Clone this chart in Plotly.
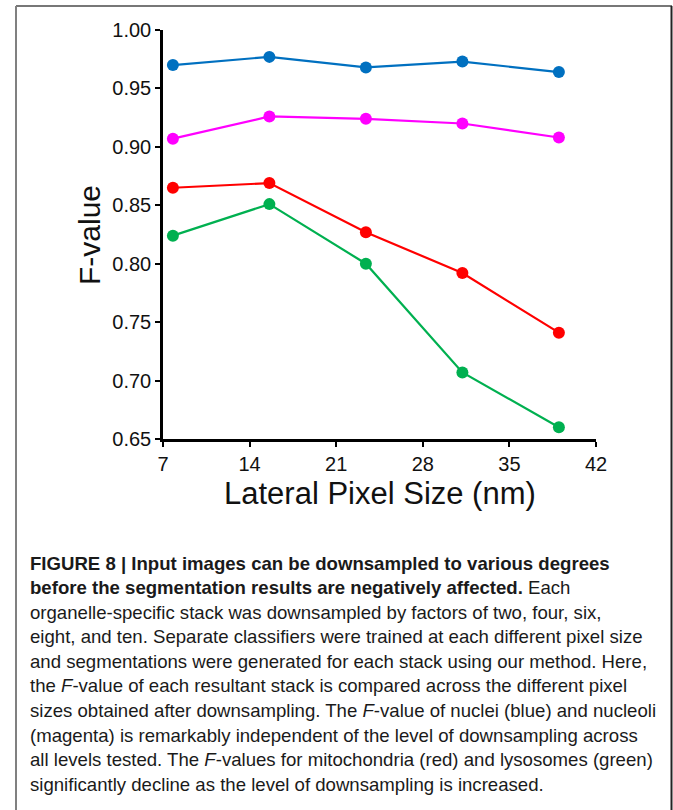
import plotly.graph_objects as go

pixel_size = [7.8, 15.6, 23.4, 31.2, 39.0]
nuclei = [0.970, 0.977, 0.968, 0.973, 0.964]
nucleoli = [0.907, 0.926, 0.924, 0.920, 0.908]
mitochondria = [0.865, 0.869, 0.827, 0.792, 0.741]
lysosomes = [0.824, 0.851, 0.800, 0.707, 0.660]

series = [
    ("Nuclei", nuclei, "#0070C0"),
    ("Nucleoli", nucleoli, "#FF00FF"),
    ("Mitochondria", mitochondria, "#FF0000"),
    ("Lysosomes", lysosomes, "#00B050"),
]

x_ticks = [7, 14, 21, 28, 35, 42]
y_ticks = [0.65, 0.70, 0.75, 0.80, 0.85, 0.90, 0.95, 1.00]

caption_lines = [
    "<b>FIGURE 8 | Input images can be downsampled to various degrees</b>",
    "<b>before the segmentation results are negatively affected.</b> Each",
    "organelle-specific stack was downsampled by factors of two, four, six,",
    "eight, and ten. Separate classifiers were trained at each different pixel size",
    "and segmentations were generated for each stack using our method. Here,",
    "the <i>F</i>-value of each resultant stack is compared across the different pixel",
    "sizes obtained after downsampling. The <i>F</i>-value of nuclei (blue) and nucleoli",
    "(magenta) is remarkably independent of the level of downsampling across",
    "all levels tested. The <i>F</i>-values for mitochondria (red) and lysosomes (green)",
    "significantly decline as the level of downsampling is increased.",
]

W, H = 673, 810
L, R, T, B = 163, 596, 30, 439
pw, ph = R - L, B - T

def px(xp):
    return (xp - L) / pw

def py(yp):
    return (B - yp) / ph

fig = go.Figure()
for name, vals, color in series:
    fig.add_trace(go.Scatter(
        x=pixel_size, y=vals, mode="lines+markers", name=name,
        line=dict(color=color, width=2.2),
        marker=dict(color=color, size=12),
        showlegend=False, cliponaxis=False,
    ))

axis_font = dict(family="Arial, Liberation Sans, sans-serif", size=20, color="#111")
fig.update_xaxes(
    range=[7, 42], tickvals=x_ticks, ticktext=[str(v) for v in x_ticks],
    showline=True, linecolor="black", linewidth=2.5, ticks="outside",
    ticklen=5, tickwidth=2, tickcolor="black", showgrid=False, zeroline=False,
    tickfont=axis_font,
)
fig.update_yaxes(
    range=[0.65, 1.00], tickvals=y_ticks, ticktext=[f"{v:.2f}" for v in y_ticks],
    showline=True, linecolor="black", linewidth=2.5, ticks="outside",
    ticklen=5, tickwidth=2, tickcolor="black", showgrid=False, zeroline=False,
    tickfont=axis_font,
)

annotations = [
    dict(text="Lateral Pixel Size (nm)", x=px(380), y=py(494), xref="paper", yref="paper",
         showarrow=False, xanchor="center", yanchor="middle",
         font=dict(family="Arial, Liberation Sans, sans-serif", size=31, color="#111")),
    dict(text="F-value", x=px(90), y=py(235), xref="paper", yref="paper", textangle=-90,
         showarrow=False, xanchor="center", yanchor="middle",
         font=dict(family="Arial, Liberation Sans, sans-serif", size=30, color="#111")),
]
cap_y0, cap_dy = 563, 24.6
for i, line in enumerate(caption_lines):
    annotations.append(dict(
        text=line, x=px(28), y=py(cap_y0 + i * cap_dy), xref="paper", yref="paper",
        showarrow=False, xanchor="left", yanchor="middle", align="left",
        font=dict(family="Arial, Liberation Sans, sans-serif", size=18.6, color="#1a1a1a"),
    ))

shapes = [
    dict(type="line", xref="paper", yref="paper", x0=px(16), x1=px(672), y0=py(6), y1=py(6),
         line=dict(color="#777777", width=2)),
    dict(type="line", xref="paper", yref="paper", x0=px(16), x1=px(16), y0=py(6), y1=py(812),
         line=dict(color="#808080", width=2)),
    dict(type="line", xref="paper", yref="paper", x0=px(671.5), x1=px(671.5), y0=py(6), y1=py(812),
         line=dict(color="#222", width=2)),
]

fig.update_layout(
    width=W, height=H,
    margin=dict(l=L, r=W - R, t=T, b=H - B),
    paper_bgcolor="white", plot_bgcolor="white",
    annotations=annotations, shapes=shapes,
)

fig.write_html(
    "out.html",
    config={"displayModeBar": False},
    post_script="document.body.style.margin='0';document.body.style.overflow='hidden';",
)
